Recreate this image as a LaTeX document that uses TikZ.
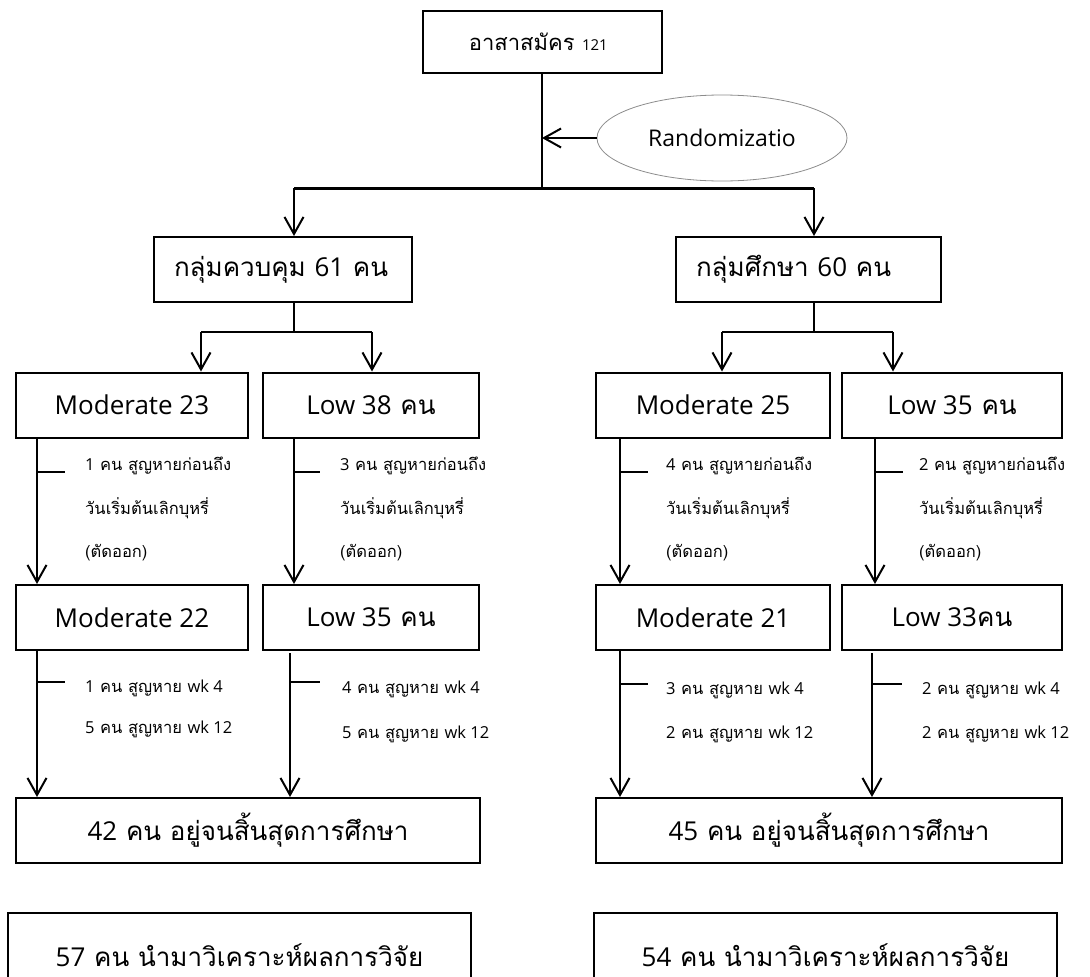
\documentclass[tikz,border=0pt]{standalone}
\usepackage{fontspec}
\setmainfont[Script=Thai]{Loma}
\newfontfamily\latfont{Open Sans}
\usepackage{tikz}
\usetikzlibrary{shapes.geometric, arrows.meta}
\tikzstyle{box} = [rectangle, 
minimum height=65pt, 
inner sep=0pt, 
align=center, 
draw=black, line width=2pt, 
font=\fontsize{26}{30}\selectfont]
\tikzstyle{group} = [box, 
align=left, 
inner xsep=20pt]
\tikzstyle{oval} = [ellipse, 
minimum width=250pt, 
minimum height=86pt, 
inner sep=0pt, 
draw=black!45, line width=0.8pt, 
font=\fontsize{23}{26}\selectfont\latfont]
\tikzstyle{note} = [anchor=west, inner sep=0pt, align=left]
\tikzstyle{line} = [line width=2pt]
\tikzstyle{bar} = [line width=3pt]
\tikzstyle{arrow} = [line width=2pt, -{Straight Barb[length=17pt, width=19pt]}]

\begin{document}
\begin{tikzpicture}[x=1pt, y=-1pt]
    \useasboundingbox (0,0) rectangle (1090,977);
    % top of the chart
    \node (rec) [box, minimum width=239pt, minimum height=62pt] at (542,42) {
      \fontsize{22}{26}\selectfont อาสาสมัคร {\fontsize{15}{18}\selectfont\latfont 121}
    };
    \node (rand) [oval] at (722,138) {Randomizatio};
    \node (ctrl) [group, minimum width=258pt, text width=218pt] at (283,269.5) {กลุ่มควบคุม {\latfont 61} คน};
    \node (stdy) [group, minimum width=265pt, text width=225pt] at (808.5,269.5) {กลุ่มศึกษา {\latfont 60} คน};

    % risk level boxes
    \node (m23) [box, minimum width=232pt] at (132,405) {\latfont Moderate 23};
    \node (l38) [box, minimum width=216pt] at (371,405) {{\latfont Low 38} คน};
    \node (m25) [box, minimum width=234pt] at (713,405) {\latfont Moderate 25};
    \node (l35) [box, minimum width=220pt] at (952,405) {{\latfont Low 35} คน};
    \node (m22) [box, minimum width=232pt] at (132,617.5) {\latfont Moderate 22};
    \node (l35b) [box, minimum width=216pt] at (371,617.5) {{\latfont Low 35} คน};
    \node (m21) [box, minimum width=234pt] at (713,617.5) {\latfont Moderate 21};
    \node (l33) [box, minimum width=220pt] at (952,617.5) {{\latfont Low 33}คน};

    % end of study
    \node (end42) [box, minimum width=464pt] at (248,830.5) {{\latfont 42} คน อยู่จนสิ้นสุดการศึกษา};
    \node (end45) [box, minimum width=466pt] at (829,830.5) {{\latfont 45} คน อยู่จนสิ้นสุดการศึกษา};
    \node (ana57) [box, minimum width=463pt, minimum height=66pt, text height=40pt, text depth=0pt] at (239.5,946) {{\latfont 57} คน นำมาวิเคราะห์ผลการวิจัย};
    \node (ana54) [box, minimum width=463pt, minimum height=66pt, text height=40pt, text depth=0pt] at (825.5,946) {{\latfont 54} คน นำมาวิเคราะห์ผลการวิจัย};

    \coordinate (topj) at (542,188);
    \coordinate (barl) at (294,188);
    \coordinate (barr) at (814,188);
    \coordinate (cj) at (294,332);
    \coordinate (cl) at (201,332);
    \coordinate (cr) at (372,332);
    \coordinate (sj) at (814,332);
    \coordinate (sl) at (722,332);
    \coordinate (sr) at (893,332);

    \draw [line] (rec) -- (topj);
    \draw [arrow] (rand.west) -- (rand.west -| topj);
    \draw [bar] (barl) -- (barr);
    \draw [arrow] (barl) -- (ctrl.north -| barl);
    \draw [arrow] (barr) -- (stdy.north -| barr);

    \draw [line] (ctrl.south -| cj) -- (cj);
    \draw [line] (cl) -- (cr);
    \draw [arrow] (cl) -- (m23.north -| cl);
    \draw [arrow] (cr) -- (l38.north -| cr);
    \draw [line] (stdy.south -| sj) -- (sj);
    \draw [line] (sl) -- (sr);
    \draw [arrow] (sl) -- (m25.north -| sl);
    \draw [arrow] (sr) -- (l35.north -| sr);

    % drop outs before quit day
    \draw [arrow] ([xshift=22pt]m23.south west) -- ([xshift=22pt]m22.north west);
    \draw [line] ([xshift=22pt, yshift=-33pt]m23.south west) -- ++(28,0);
    \node (q1) [note, font=\fontsize{16.5}{43.5}\selectfont] at ([xshift=70pt, yshift=-70.5pt]m23.south west) {{\latfont 1} คน สูญหายก่อนถึง\\วันเริ่มต้นเลิกบุหรี่\\(ตัดออก)};
    \draw [arrow] ([xshift=32pt]l38.south west) -- ([xshift=32pt]l35b.north west);
    \draw [line] ([xshift=32pt, yshift=-33pt]l38.south west) -- ++(26,0);
    \node (q2) [note, font=\fontsize{16.5}{43.5}\selectfont] at ([xshift=78pt, yshift=-70.5pt]l38.south west) {{\latfont 3} คน สูญหายก่อนถึง\\วันเริ่มต้นเลิกบุหรี่\\(ตัดออก)};
    \draw [arrow] ([xshift=25pt]m25.south west) -- ([xshift=25pt]m21.north west);
    \draw [line] ([xshift=25pt, yshift=-33pt]m25.south west) -- ++(28,0);
    \node (q3) [note, font=\fontsize{16.5}{43.5}\selectfont] at ([xshift=71pt, yshift=-70.5pt]m25.south west) {{\latfont 4} คน สูญหายก่อนถึง\\วันเริ่มต้นเลิกบุหรี่\\(ตัดออก)};
    \draw [arrow] ([xshift=34pt]l35.south west) -- ([xshift=34pt]l33.north west);
    \draw [line] ([xshift=34pt, yshift=-33pt]l35.south west) -- ++(28,0);
    \node (q4) [note, font=\fontsize{16.5}{43.5}\selectfont] at ([xshift=78pt, yshift=-70.5pt]l35.south west) {{\latfont 2} คน สูญหายก่อนถึง\\วันเริ่มต้นเลิกบุหรี่\\(ตัดออก)};

    % drop outs during follow up
    \draw [arrow] ([xshift=22pt]m22.south west) -- ([xshift=22pt]m22.south west |- end42.north);
    \draw [line] ([xshift=22pt, yshift=-31pt]m22.south west) -- ++(28,0);
    \node (w1) [note, font=\fontsize{16.5}{41}\selectfont] at ([xshift=70pt, yshift=-57.5pt]m22.south west) {{\latfont 1} คน สูญหาย {\latfont wk 4}\\{\latfont 5} คน สูญหาย {\latfont wk 12}};
    \draw [arrow] ([xshift=28pt, yshift=-2pt]l35b.south west) -- ([xshift=28pt]l35b.south west |- end42.north);
    \draw [line] ([xshift=28pt, yshift=-31pt]l35b.south west) -- ++(30,0);
    \node (w2) [note, font=\fontsize{16.5}{45}\selectfont] at ([xshift=80pt, yshift=-60.5pt]l35b.south west) {{\latfont 4} คน สูญหาย {\latfont wk 4}\\{\latfont 5} คน สูญหาย {\latfont wk 12}};
    \draw [arrow] ([xshift=25pt]m21.south west) -- ([xshift=25pt]m21.south west |- end45.north);
    \draw [line] ([xshift=25pt, yshift=-33pt]m21.south west) -- ++(28,0);
    \node (w3) [note, font=\fontsize{16.5}{44}\selectfont] at ([xshift=71pt, yshift=-61pt]m21.south west) {{\latfont 3} คน สูญหาย {\latfont wk 4}\\{\latfont 2} คน สูญหาย {\latfont wk 12}};
    \draw [arrow] ([xshift=31pt, yshift=-2pt]l33.south west) -- ([xshift=31pt]l33.south west |- end45.north);
    \draw [line] ([xshift=31pt, yshift=-33pt]l33.south west) -- ++(30,0);
    \node (w4) [note, font=\fontsize{16.5}{44}\selectfont] at ([xshift=81pt, yshift=-61pt]l33.south west) {{\latfont 2} คน สูญหาย {\latfont wk 4}\\{\latfont 2} คน สูญหาย {\latfont wk 12}};
\end{tikzpicture}
\end{document}
